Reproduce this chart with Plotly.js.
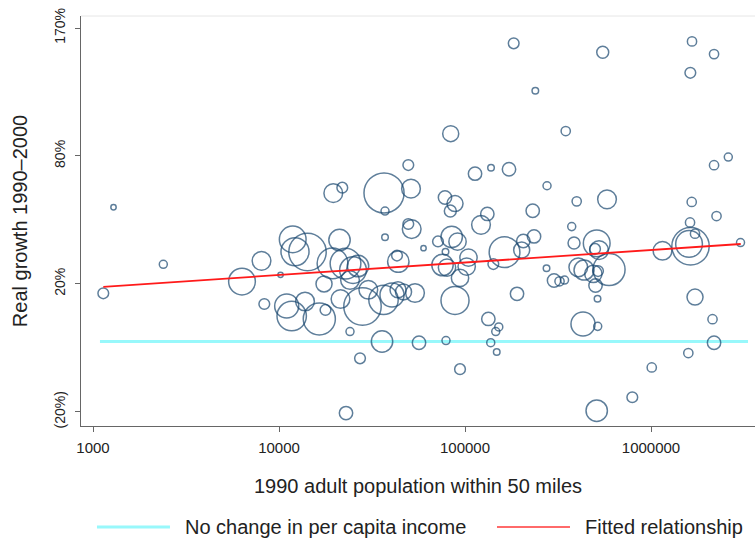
<!DOCTYPE html>
<html>
<head>
<meta charset="utf-8">
<script src="https://cdn.plot.ly/plotly-3.0.1.min.js"></script>
<style>html,body{margin:0;padding:0;background:#fff;}#chart{width:755px;height:540px;}</style>
</head>
<body>
<div id="chart"></div>
<script>
// 1990 adult population within 50 miles
var population = [1136,1289,2388,6324,8054,10190,8336,11000,11700,13800,16470,17780,17460,11850,12190,14230,21150,19390,22780,25000,24080,26590,21410,28110,30210,24080,27260,22920,35800,19580,21890,36690,37150,37150,49560,51680,43090,43790,36460,40500,43630,46710,53850,49560,51240,83770,113200,138000,172400,276000,78060,88350,83370,59830,71580,84820,91150,78550,75680,80020,104400,102100,94000,121900,131800,142000,163100,201700,205800,235000,231200,274300,301000,322200,342800,88350,190400,133500,151900,146300,56580,79020,137500,148100,94000,182700,238800,347900,550000,398500,580000,374700,385500,510500,525300,500000,406500,436300,489600,518900,594600,503100,515700,430900,516900,510500,793200,1009000,1153000,1631000,1601000,1724000,3028000,1724000,2141000,2182000,1587000,1621000,2250000,1655000,2182000,2603000,1661000,2182000,1627000];
// Real growth 1990-2000, percent
var growthPct = [16.5,53.0,27.7,20.9,29.1,23.5,12.6,11.9,8.4,13.5,7.4,10.5,20.0,38.2,32.9,32.8,37.9,28.1,28.0,25.4,21.5,27.0,14.4,11.7,17.8,3.2,-5.2,-20.3,0.0,60.0,62.8,60.1,51.2,39.1,45.1,42.8,31.3,28.8,14.1,15.9,17.8,17.0,16.6,74.9,62.3,93.2,70.2,73.4,72.6,63.8,57.8,54.8,51.2,34.4,37.3,39.3,37.2,32.9,27.4,26.4,30.4,26.8,22.3,44.7,49.8,27.8,32.7,33.6,37.5,39.5,51.3,26.1,21.3,21.0,21.5,13.9,16.3,7.4,4.7,3.2,-0.4,0.3,-0.4,-3.3,-8.4,157.2,121.3,94.8,150.0,55.9,56.9,43.9,36.6,36.5,33.6,34.1,26.5,25.4,23.9,25.0,25.6,19.4,14.5,5.7,4.9,-19.7,-16.2,-7.9,33.3,35.2,36.2,40.7,36.8,15.1,7.3,-0.4,-3.6,45.8,48.8,55.6,74.8,79.4,158.8,148.6,134.3];
// bubble weight (area)
var weight = [16,4,9,100,49,4,16,81,121,49,144,16,36,100,110,196,64,132,132,100,49,64,49,196,49,9,16,25,64,49,16,225,9,6,16,49,16,64,121,81,36,36,49,16,49,36,25,6,25,9,25,36,20,4,16,64,42,6,64,42,42,42,42,49,25,16,132,36,25,25,25,6,25,12,9,110,25,25,9,9,25,9,9,6,16,16,6,12,20,12,49,9,20,100,49,16,49,56,42,16,144,25,6,81,9,64,16,12,49,196,100,12,9,36,12,25,12,12,12,12,12,9,12,12,16];

// Reference lines
var noChangeX = [1090, 3322000];
var noChangePct = [0, 0];
var fitX = [1136, 3036000];
var fitPct = [18.9, 36.2];

// Axis ticks
var xTickVals = [1000, 10000, 100000, 1000000];
var xTickText = ['1000', '10000', '100000', '1000000'];
var yTickPct = [-20, 20, 80, 170];
var yTickText = ['(20%)', '20%', '80%', '170%'];

var legendLabels = ['No change in per capita income', 'Fitted relationship'];

function factor(arr){ return arr.map(function(g){ return 1 + g/100; }); }

var navy = '#1a476f';
var cyanC = '#98f8fb';
var redC = '#ff1a1a';
var font = 'Liberation Sans, Arial, Helvetica, sans-serif';

var traces = [
  {x: noChangeX, y: factor(noChangePct), mode: 'lines', line: {color: cyanC, width: 3}, hoverinfo: 'skip', showlegend: false},
  {x: population, y: factor(growthPct), mode: 'markers', showlegend: false,
   marker: {symbol: 'circle-open', size: weight, sizemode: 'area', sizeref: 0.28, color: navy, line: {width: 1.5, color: navy}}},
  {x: fitX, y: factor(fitPct), mode: 'lines', line: {color: redC, width: 1.8}, hoverinfo: 'skip', showlegend: false}
];

var layout = {
  width: 755, height: 540,
  margin: {l: 81, r: 0, t: 16, b: 114},
  paper_bgcolor: '#fff', plot_bgcolor: '#fff',
  font: {family: font, color: '#222'},
  showlegend: false,
  xaxis: {
    type: 'log', range: [2.9355, 6.559], autorange: false,
    tickvals: xTickVals, ticktext: xTickText,
    ticks: 'outside', ticklen: 5, tickcolor: '#666', tickwidth: 1,
    showline: true, linecolor: '#666', linewidth: 1,
    showgrid: false, zeroline: false,
    tickfont: {size: 15, color: '#222'},
    ticklabelstandoff: 3,
    title: {text: '1990 adult population within 50 miles', font: {size: 20, color: '#222'}, standoff: 23}
  },
  yaxis: {
    type: 'log', range: [Math.log10(0.765), Math.log10(2.805)], autorange: false,
    tickvals: factor(yTickPct), ticktext: yTickText, tickangle: -90,
    ticks: 'outside', ticklen: 5, tickcolor: '#666', tickwidth: 1,
    showline: true, linecolor: '#666', linewidth: 1,
    showgrid: false, zeroline: false,
    tickfont: {size: 14, color: '#222'},
    ticklabelstandoff: 4,
    title: {text: 'Real growth 1990–2000', font: {size: 20, color: '#222'}, standoff: 19}
  },
  shapes: [
    {type: 'line', xref: 'paper', yref: 'paper', x0: 0, x1: 1, y0: 1, y1: 1, line: {color: '#e6e6e6', width: 1}},
    {type: 'line', xref: 'paper', yref: 'paper', x0: 0.0237, x1: 0.132, y0: -0.2463, y1: -0.2463, line: {color: cyanC, width: 3}},
    {type: 'line', xref: 'paper', yref: 'paper', x0: 0.6172, x1: 0.7255, y0: -0.2463, y1: -0.2463, line: {color: '#ff6a6a', width: 2}}
  ],
  annotations: [
    {xref: 'paper', yref: 'paper', x: 0.1513, y: -0.2463, xanchor: 'left', yanchor: 'middle', showarrow: false, text: legendLabels[0], font: {size: 20, color: '#222'}},
    {xref: 'paper', yref: 'paper', x: 0.7448, y: -0.2463, xanchor: 'left', yanchor: 'middle', showarrow: false, text: legendLabels[1], font: {size: 20, color: '#222'}}
  ]
};

Plotly.newPlot('chart', traces, layout, {staticPlot: true, displayModeBar: false});
</script>
</body>
</html>
